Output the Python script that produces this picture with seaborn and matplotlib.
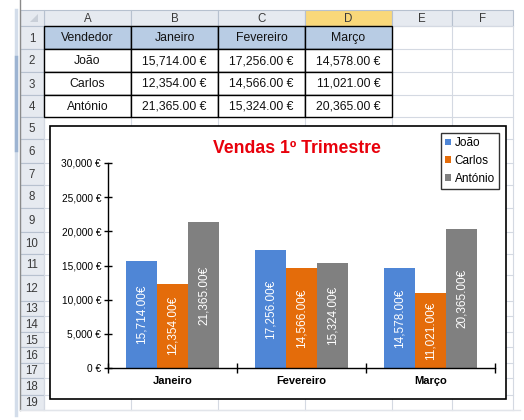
import matplotlib
matplotlib.use('Agg')
import matplotlib.pyplot as plt
import matplotlib.ticker as mticker
from matplotlib.patches import Rectangle, Polygon
import seaborn as sns
import pandas as pd

plt.rcParams['font.family'] = ['Liberation Sans', 'DejaVu Sans']

# dados da folha
vendedores = ['João', 'Carlos', 'António']
meses = ['Janeiro', 'Fevereiro', 'Março']
joao = [15714, 17256, 14578]
carlos = [12354, 14566, 11021]
antonio = [21365, 15324, 20365]
titulo = 'Vendas 1º Trimestre'
cores = ['#4F86D6', '#E46C0A', '#808080']

# geometria da folha (pixeis)
col_x = [20, 44, 131, 218, 305, 392, 452, 513]
col_nomes = ['A', 'B', 'C', 'D', 'E', 'F']
row_y = [10, 26, 49, 72, 95, 117, 139, 163, 185, 208, 232, 254, 275,
         301, 316, 332, 347, 363, 378, 395, 410]

fig = plt.figure(figsize=(5.24, 4.2), dpi=100)
sheet = fig.add_axes([0, 0, 1, 1])
sheet.set_xlim(0, 524)
sheet.set_ylim(420, 0)
sheet.axis('off')

grid_c = '#D4D9E2'
head_c = '#E6EAF0'
head_line = '#B7C1CF'

# linhas da grelha
for x in col_x[1:]:
    sheet.plot([x, x], [row_y[1], row_y[-1]], color=grid_c, lw=0.8)
for y in row_y[1:]:
    sheet.plot([col_x[1], col_x[-1]], [y, y], color=grid_c, lw=0.8)

# cabeçalhos de coluna
for i, nome in enumerate(col_nomes):
    fc = '#F9D87A' if nome == 'D' else head_c
    sheet.add_patch(Rectangle((col_x[i + 1], row_y[0]), col_x[i + 2] - col_x[i + 1],
                              row_y[1] - row_y[0], fc=fc, ec=head_line, lw=0.8))
    sheet.text((col_x[i + 1] + col_x[i + 2]) / 2, (row_y[0] + row_y[1]) / 2 + 0.5, nome,
               ha='center', va='center', fontsize=8.3, color='#3A3A3A')
sheet.add_patch(Rectangle((col_x[0], row_y[0]), col_x[1] - col_x[0], row_y[1] - row_y[0],
                          fc=head_c, ec=head_line, lw=0.8))
sheet.add_patch(Polygon([[38, 14], [38, 22], [30, 22]], closed=True, fc='#C9CFD8', ec='none'))

# cabeçalhos de linha
for r in range(1, len(row_y) - 1):
    sheet.add_patch(Rectangle((col_x[0], row_y[r]), col_x[1] - col_x[0], row_y[r + 1] - row_y[r],
                              fc=head_c, ec=head_line, lw=0.8))
    sheet.text(32, (row_y[r] + row_y[r + 1]) / 2 + 1, str(r), ha='center', va='center',
               fontsize=8.3, color='#3A3A3A')

# moldura lateral
sheet.plot([16, 16], [10, 415], color='#D3DDEA', lw=2.5)
sheet.plot([16, 16], [57, 150], color='#9DB4D2', lw=2.5)
sheet.plot([20, 20], [0, 410], color='#8A8A8A', lw=1)
sheet.plot([20, 520], [410, 410], color='#E2E5EA', lw=1)

# tabela A1:D4
tabela = [['Vendedor'] + meses]
for nome, vals in zip(vendedores, [joao, carlos, antonio]):
    tabela.append([nome] + [f'{v:,.2f} €' for v in vals])
for r, linha in enumerate(tabela):
    y0, y1 = row_y[r + 1], row_y[r + 2]
    for c, txt in enumerate(linha):
        x0, x1 = col_x[c + 1], col_x[c + 2]
        fc = '#B8CCE4' if r == 0 else 'white'
        sheet.add_patch(Rectangle((x0, y0), x1 - x0, y1 - y0, fc=fc, ec='black', lw=1, zorder=3))
        sheet.text((x0 + x1) / 2, (y0 + y1) / 2 + 0.5, txt, ha='center', va='center',
                   fontsize=8.8, color='#111111', zorder=4)

# caixa do gráfico
sheet.add_patch(Rectangle((50, 126), 456, 273, fc='white', ec='black', lw=1.2, zorder=5))

# gráfico
df = pd.DataFrame({
    'mes': meses * 3,
    'vendedor': [v for v in vendedores for _ in meses],
    'valor': joao + carlos + antonio,
})

ax = fig.add_axes([108 / 524, 1 - 368 / 420, (495 - 108) / 524, 205 / 420])
ax.patch.set_alpha(0)
sns.barplot(data=df, x='mes', y='valor', hue='vendedor', palette=cores,
            width=0.72, saturation=1, ax=ax)

for cont in ax.containers:
    labels = [f'{b.get_height():,.2f}€' for b in cont]
    ax.bar_label(cont, labels=labels, label_type='center', rotation=90,
                 color='white', fontsize=8.5)

ax.set_ylim(0, 30000)
ax.set_xlim(-0.5, 2.5)
ax.yaxis.set_major_locator(mticker.MultipleLocator(5000))
ax.yaxis.set_major_formatter(mticker.FuncFormatter(lambda v, p: f'{v:,.0f} €'))
ax.tick_params(axis='y', direction='inout', length=6, width=1, labelsize=7.3, pad=2)
ax.set_xticks([-0.5, 0.5, 1.5, 2.5])
ax.set_xticklabels([])
ax.set_xticks([0, 1, 2], minor=True)
ax.set_xticklabels(meses, minor=True, fontweight='bold', fontsize=8)
ax.tick_params(axis='x', which='major', direction='inout', length=7, width=1)
ax.tick_params(axis='x', which='minor', length=0, pad=6)
ax.set_xlabel('')
ax.set_ylabel('')
for s in ['top', 'right']:
    ax.spines[s].set_visible(False)
for s in ['left', 'bottom']:
    ax.spines[s].set_color('black')
    ax.spines[s].set_linewidth(1)

leg = ax.legend(loc='upper right', bbox_to_anchor=(499 / 524, 1 - 133 / 420),
                bbox_transform=fig.transFigure, fontsize=8.5, frameon=True,
                fancybox=False, edgecolor='black', handlelength=0.5, handleheight=0.5,
                handletextpad=0.3, borderpad=0.35, labelspacing=0.5, borderaxespad=0)
leg.get_frame().set_linewidth(1)

fig.text(297 / 524, 1 - 148 / 420, titulo, ha='center', va='center', color='#E8000B',
         fontsize=12.7, fontweight='bold')

fig.savefig('out.png', dpi=100)
